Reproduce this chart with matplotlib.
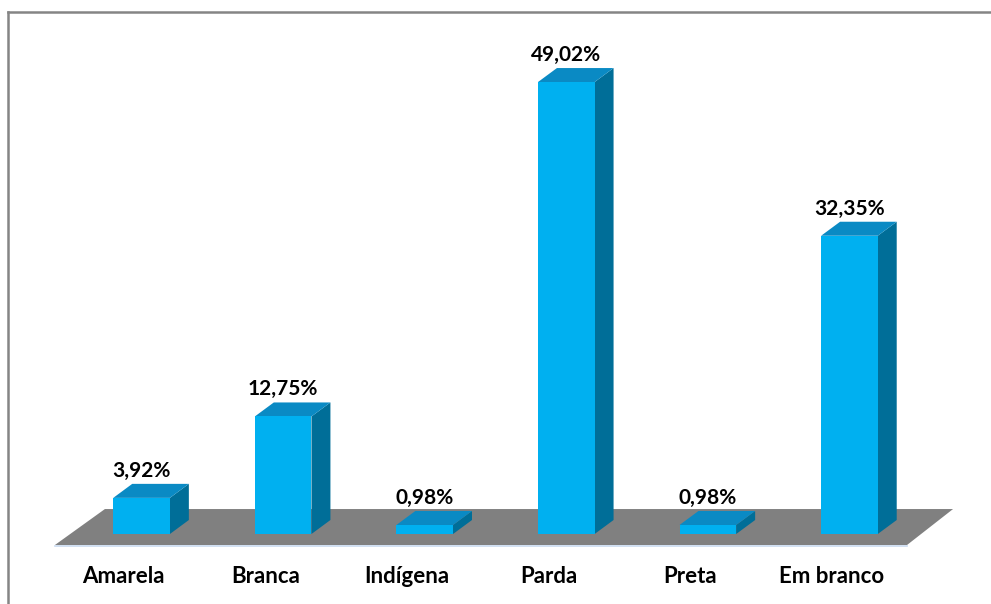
import numpy as np
import matplotlib
matplotlib.use("Agg")
import matplotlib.pyplot as plt
from matplotlib.patches import Polygon
from matplotlib.lines import Line2D

categories = ["Amarela", "Branca", "Indígena", "Parda", "Preta", "Em branco"]
values = [3.92, 12.75, 0.98, 49.02, 0.98, 32.35]
value_labels = ["3,92%", "12,75%", "0,98%", "49,02%", "0,98%", "32,35%"]

FRONT = "#00B0F0"
TOP = "#0A8AC4"
SIDE = "#006E98"
FLOOR = "#808080"

plt.rcParams['font.family'] = ['Lato', 'DejaVu Sans']

fig = plt.figure(figsize=(9.91, 6.04), dpi=100)
ax = fig.add_axes([0, 0, 1, 1])
ax.set_xlim(-1.0, 6.0)
ax.set_ylim(-7.59, 57.92)
ax.axis('off')

# depth offsets (data units)
dx, dy = 0.134, 1.52

# floor
floor = Polygon([(-0.612, -1.19), (5.407, -1.19), (5.732, 2.71), (-0.259, 2.71)],
                closed=True, facecolor=FLOOR, edgecolor='none', zorder=1)
ax.add_patch(floor)
ax.plot([-0.612, 5.407], [-1.30, -1.30], color="#C9DAF0", lw=1.2, zorder=1)

x = np.arange(len(categories))
bars = ax.bar(x, values, width=0.40, color=FRONT, zorder=4)
for rect in bars:
    x0 = rect.get_x()
    w = rect.get_width()
    h = rect.get_height()
    top = Polygon([(x0, h), (x0 + w, h), (x0 + w + dx, h + dy), (x0 + dx, h + dy)],
                  closed=True, facecolor=TOP, edgecolor='none', zorder=3)
    side = Polygon([(x0 + w, 0), (x0 + w + dx, dy), (x0 + w + dx, h + dy), (x0 + w, h)],
                   closed=True, facecolor=SIDE, edgecolor='none', zorder=3)
    ax.add_patch(side)
    ax.add_patch(top)

for xi, v, lab in zip(x, values, value_labels):
    ax.text(xi, v + dy + 0.35, lab, ha='center', va='bottom',
            fontsize=15, fontweight='bold', color='black', zorder=5)

for xi, cat in zip(x, categories):
    ax.text(xi - 0.125, -4.66, cat, ha='center', va='center',
            fontsize=16, fontweight='bold', color='black', zorder=5)

# chart frame (top and left)
fig.add_artist(Line2D([8 / 991, 1.0], [1 - 12 / 604, 1 - 12 / 604],
                      transform=fig.transFigure, color="#858585", lw=1.8))
fig.add_artist(Line2D([8 / 991, 8 / 991], [0, 1 - 12 / 604],
                      transform=fig.transFigure, color="#858585", lw=1.8))

fig.savefig("out.png", dpi=100)
